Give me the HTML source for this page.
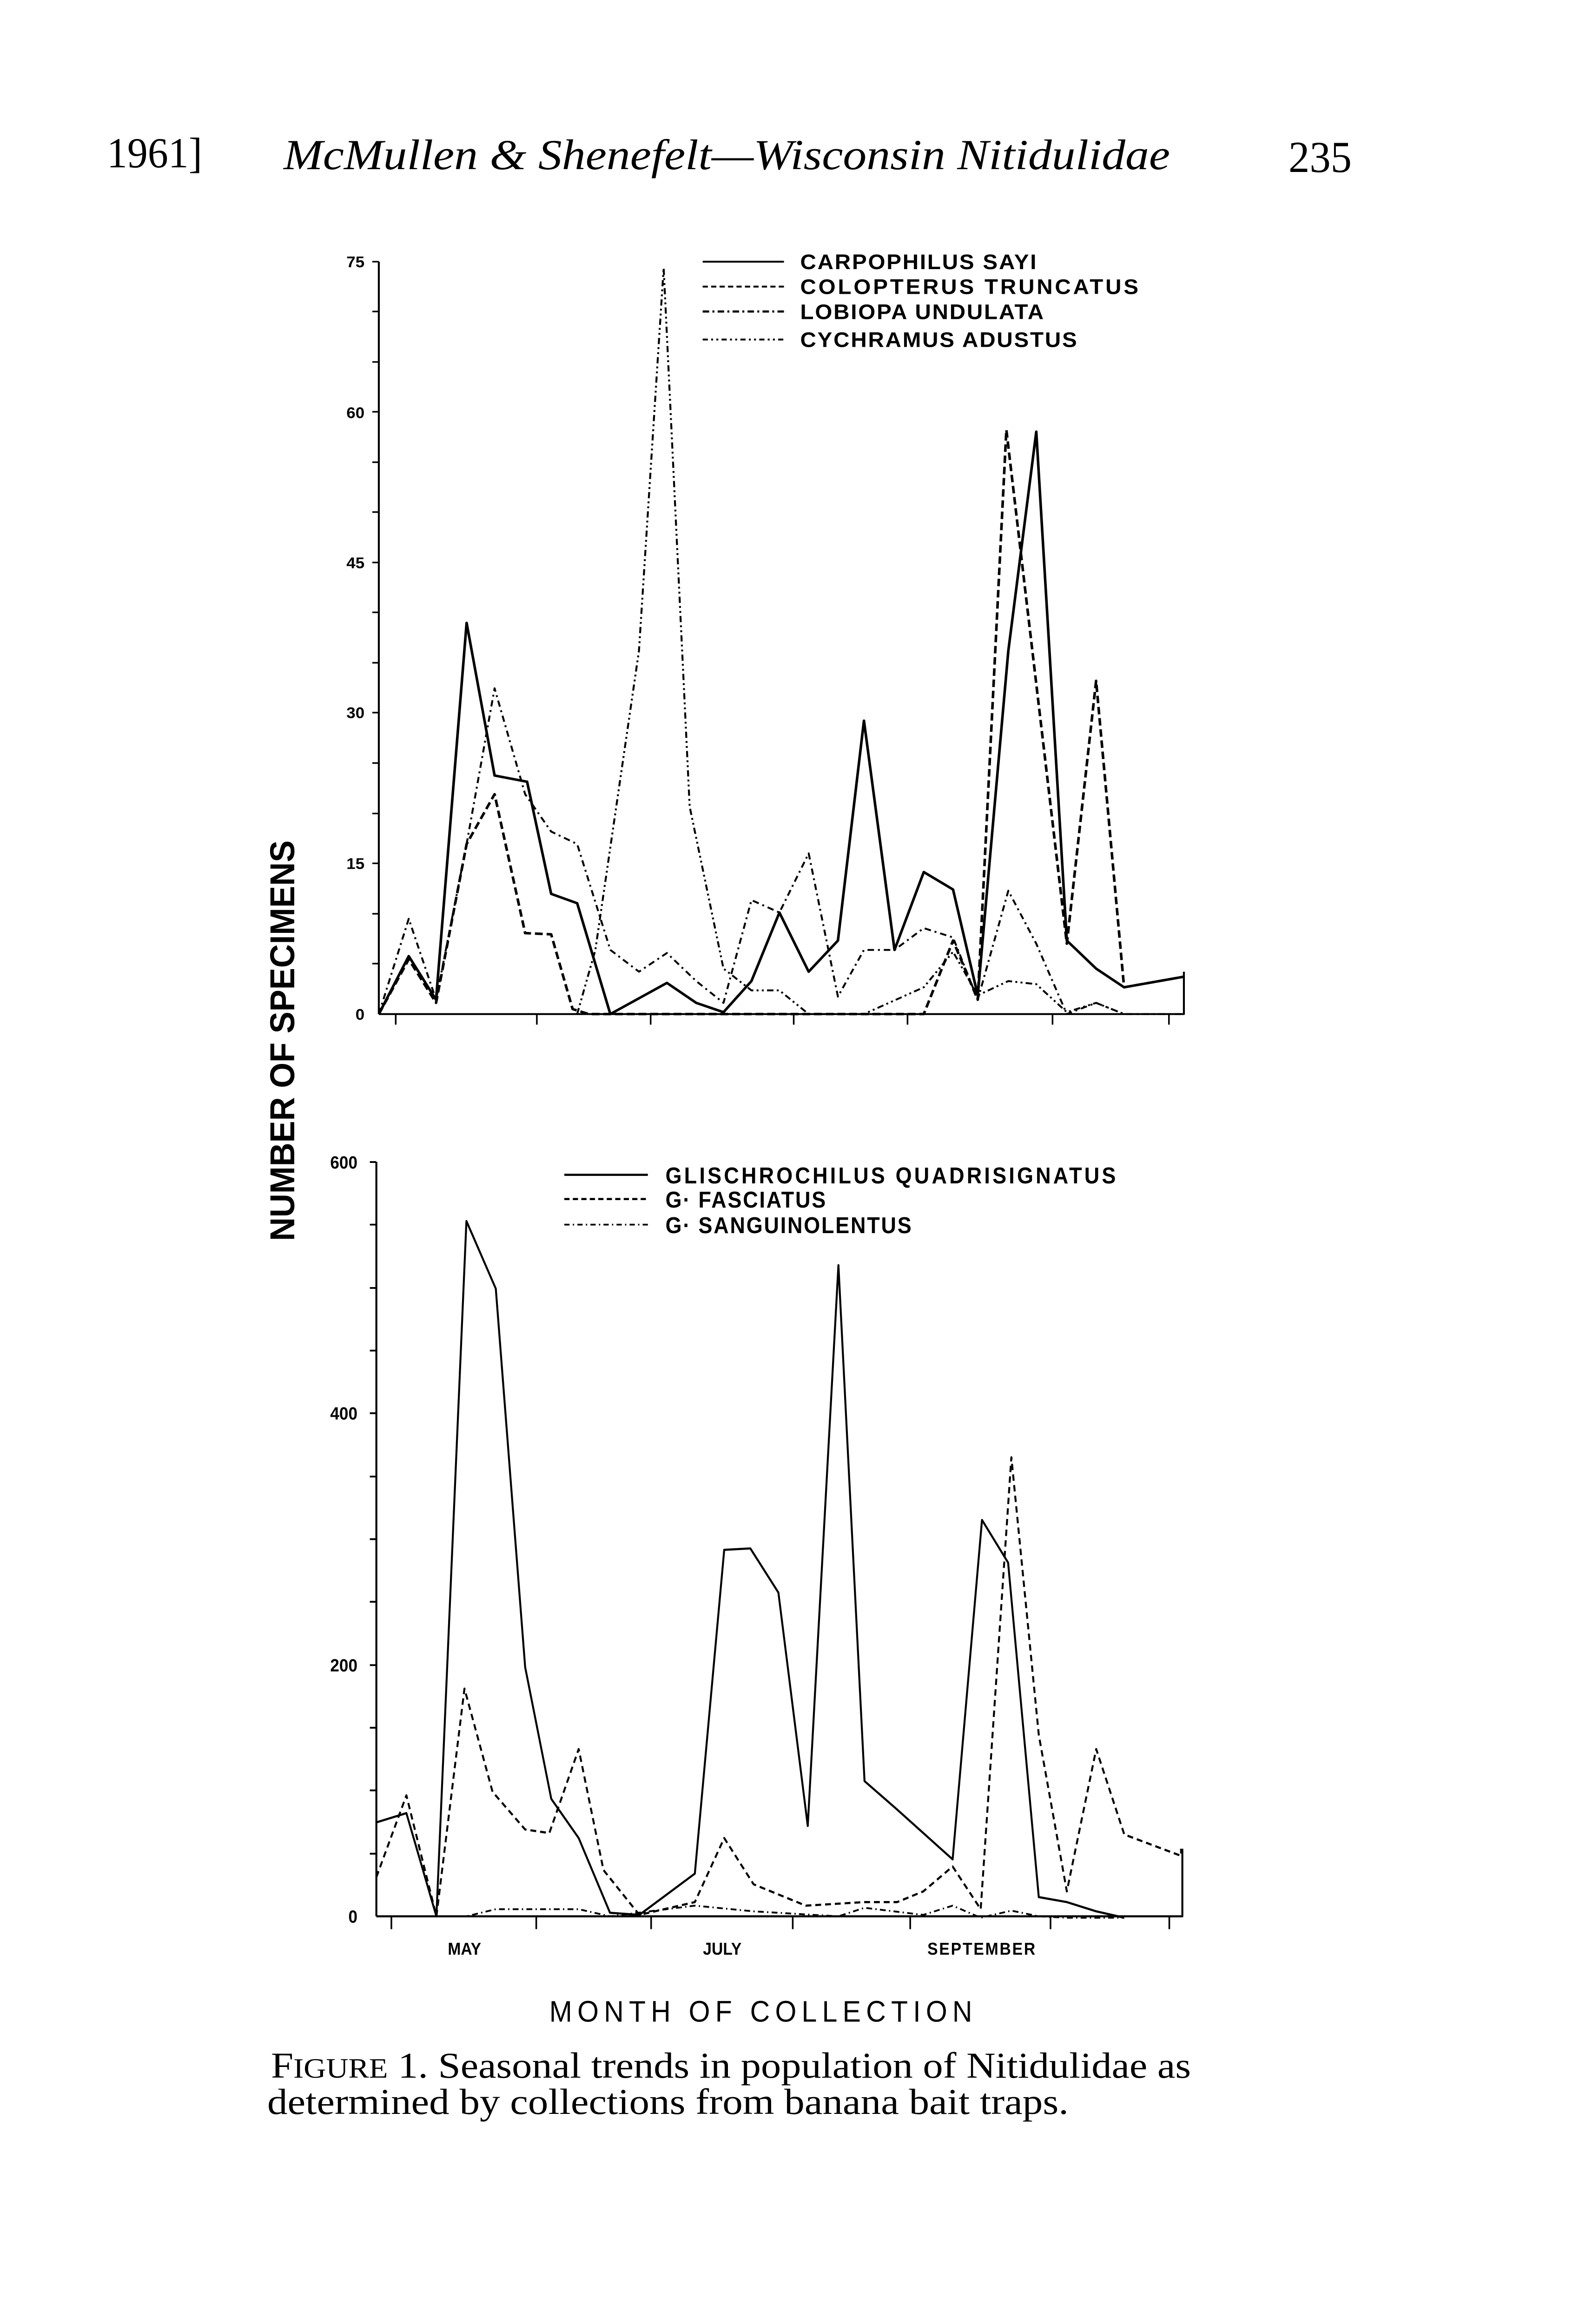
<!DOCTYPE html>
<html><head><meta charset="utf-8"><style>html,body{margin:0;padding:0;background:#fff;width:3412px;height:5180px;overflow:hidden}svg{display:block}</style></head><body>
<svg width="3412" height="5180" viewBox="0 0 3412 5180" xmlns="http://www.w3.org/2000/svg">
<rect width="3412" height="5180" fill="#fff"/>
<g font-family="Liberation Serif, serif" fill="#000">
<text x="230" y="360" font-size="92" textLength="205" lengthAdjust="spacingAndGlyphs">1961]</text>
<text x="610" y="364" font-size="92" font-style="italic" textLength="1907" lengthAdjust="spacingAndGlyphs">McMullen &amp; Shenefelt—Wisconsin Nitidulidae</text>
<text x="2772" y="370" font-size="95" textLength="136" lengthAdjust="spacingAndGlyphs">235</text>
</g>
<text transform="translate(633,2239) rotate(-90)" text-anchor="middle" font-family="Liberation Sans, sans-serif" font-weight="bold" font-size="74" textLength="862" lengthAdjust="spacingAndGlyphs">NUMBER OF SPECIMENS</text>

<!-- TOP CHART -->
<g transform="translate(504.4,194.5) scale(1.399,1.340)" fill="none" stroke="#000" stroke-linejoin="round">
<path d="M222,1483 V275 M222,1483 H1460 V1415" stroke-width="3"/>
<path d="M212,275H222 M212,355H222 M212,436H222 M212,516H222 M212,597H222 M212,677H222 M212,758H222 M212,838H222 M212,919H222 M212,999H222 M212,1080H222 M212,1161H222 M212,1241H222 M212,1322H222 M212,1402H222 M248,1483V1500 M465,1483V1500 M640,1483V1500 M860,1483V1500 M1035,1483V1500 M1258,1483V1500 M1437,1483V1500" stroke-width="2.5"/>
<path d="M222,1483 268,1390 310,1460 357,855 400,1100 450,1110 487,1290 527,1305 578,1483 665,1433 710,1465 752,1480 795,1430 838,1320 883,1415 928,1365 968,1012 1015,1380 1060,1255 1105,1283 1143,1453 1190,900 1233,548 1280,1365 1325,1410 1368,1440 1460,1423" stroke-width="4"/>
<path d="M222,1483 268,1330 310,1460 357,1210 400,960 447,1130 487,1190 527,1210 578,1380 622,1415 665,1385 710,1430 752,1465 795,1300 838,1320 883,1225 928,1455 968,1380 1015,1380 1060,1345 1105,1360 1143,1460 1190,1285 1233,1370 1280,1483 1325,1465 1368,1483 1460,1483" stroke-width="3" stroke-dasharray="10,6,3,6"/>
<path d="M222,1483 268,1395 310,1465 357,1210 400,1130 447,1353 487,1355 520,1475 545,1483 1060,1483 1105,1365 1143,1460 1187,545 1280,1370 1325,948 1368,1440 1460,1423" stroke-width="4" stroke-dasharray="12,6"/>
<path d="M527,1483 555,1380 622,900 660,285 700,1150 752,1410 795,1445 838,1445 883,1483 968,1483 1060,1440 1105,1383 1143,1453 1190,1430 1233,1435 1280,1480 1325,1465 1368,1483" stroke-width="3" stroke-dasharray="10,5,3,5,3,5"/>
<path d="M720,275H845" stroke-width="3"/>
<path d="M720,315H845" stroke-width="3" stroke-dasharray="8,5"/>
<path d="M720,355H845" stroke-width="3.5" stroke-dasharray="10,5,3,5"/>
<path d="M720,400H845" stroke-width="3" stroke-dasharray="8,5,3,5,3,5"/>
<g stroke="none" fill="#000" font-family="Liberation Sans, sans-serif" font-weight="bold">
<g font-size="34" letter-spacing="2">
<text x="870" y="287">CARPOPHILUS SAYI</text>
<text x="870" y="327" textLength="522">COLOPTERUS TRUNCATUS</text>
<text x="870" y="367">LOBIOPA UNDULATA</text>
<text x="870" y="412">CYCHRAMUS ADUSTUS</text>
</g>
<g font-size="25" text-anchor="end">
<text x="200" y="284">75</text><text x="200" y="526">60</text><text x="200" y="767">45</text>
<text x="200" y="1008">30</text><text x="200" y="1250">15</text><text x="200" y="1492">0</text>
</g>
</g>
</g>

<!-- BOTTOM CHART -->
<g transform="translate(498,2301) scale(1.404,1.531)" fill="none" stroke="#000" stroke-linejoin="round">
<path d="M222,1190 V130 M222,1190 H1457 V1095" stroke-width="3"/>
<path d="M212,130H222 M212,218H222 M212,307H222 M212,395H222 M212,483H222 M212,572H222 M212,660H222 M212,748H222 M212,837H222 M212,925H222 M212,1013H222 M212,1102H222 M245,1190V1208 M467,1190V1208 M643,1190V1208 M860,1190V1208 M1040,1190V1208 M1255,1190V1208 M1437,1190V1208" stroke-width="2.5"/>
<path d="M222,1058 268,1045 314,1190 360,213 405,308 450,840 490,1025 532,1080 580,1185 625,1188 710,1130 755,675 795,673 838,735 883,1063 930,275 970,1000 1020,1040 1105,1110 1150,633 1190,693 1237,1163 1280,1170 1325,1183 1368,1192" stroke-width="3"/>
<path d="M222,1135 268,1020 314,1190 357,870 400,1015 450,1068 487,1073 532,955 570,1125 625,1188 710,1170 755,1080 800,1145 880,1175 970,1170 1020,1170 1060,1155 1105,1120 1148,1180 1195,545 1237,935 1280,1155 1325,955 1368,1075 1455,1105 1455,1095" stroke-width="3" stroke-dasharray="9,6"/>
<path d="M222,1190 360,1190 405,1180 490,1180 532,1180 580,1190 710,1175 800,1183 930,1190 970,1178 1060,1188 1105,1175 1148,1192 1195,1182 1237,1190 1280,1192 1368,1192" stroke-width="2.5" stroke-dasharray="9,5,2,5"/>
<path d="M510,148H638" stroke-width="3"/>
<path d="M510,182H638" stroke-width="3" stroke-dasharray="8,5"/>
<path d="M510,218H638" stroke-width="2.5" stroke-dasharray="8,5,2,5"/>
<g stroke="none" fill="#000" font-family="Liberation Sans, sans-serif" font-weight="bold">
<g font-size="32" letter-spacing="2">
<text x="665" y="160" textLength="692">GLISCHROCHILUS QUADRISIGNATUS</text>
<text x="665" y="194">G· FASCIATUS</text>
<text x="665" y="230">G· SANGUINOLENTUS</text>
</g>
<g font-size="25" text-anchor="end">
<text x="193" y="139">600</text><text x="193" y="492">400</text><text x="193" y="846">200</text><text x="193" y="1199">0</text>
</g>
<g font-size="24" text-anchor="middle">
<text x="357" y="1244">MAY</text><text x="752" y="1244">JULY</text><text x="1150" y="1244" letter-spacing="2">SEPTEMBER</text>
</g>
<text x="815" y="1338" font-size="42" font-weight="normal" text-anchor="middle" letter-spacing="8">MONTH OF COLLECTION</text>
</g>
</g>
<g font-family="Liberation Serif, serif" font-size="78" fill="#000">
<text x="583" y="4470" textLength="1979" lengthAdjust="spacingAndGlyphs">F<tspan font-size="60">IGURE</tspan> 1. Seasonal trends in population of Nitidulidae as</text>
<text x="575" y="4548" textLength="1724" lengthAdjust="spacingAndGlyphs">determined by collections from banana bait traps.</text>
</g>
</svg>
</body></html>
